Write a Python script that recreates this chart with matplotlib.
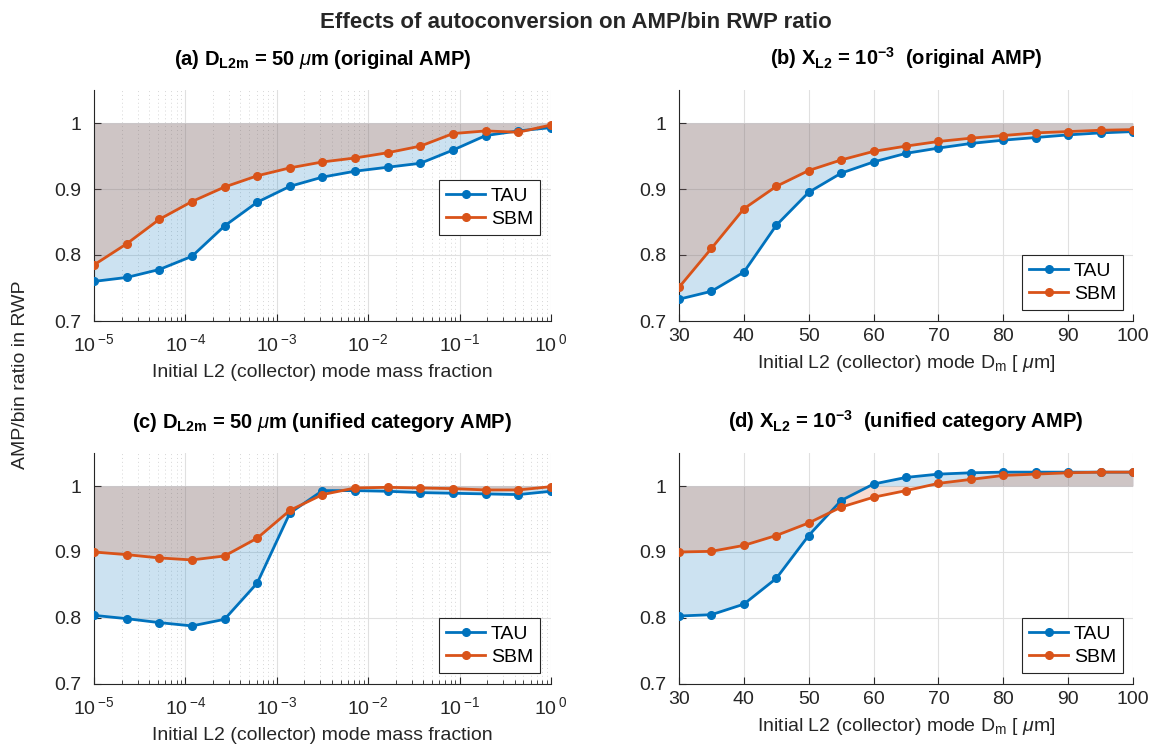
import matplotlib
matplotlib.use("Agg")
import matplotlib.pyplot as plt
from matplotlib.ticker import LogLocator, NullFormatter, FuncFormatter
import math

plt.rcParams['font.family'] = ['Liberation Sans', 'DejaVu Sans']
plt.rcParams['mathtext.fontset'] = 'custom'
plt.rcParams['mathtext.rm'] = 'Liberation Sans'
plt.rcParams['mathtext.bf'] = 'Liberation Sans:bold'
plt.rcParams['mathtext.it'] = 'Liberation Sans:italic'
plt.rcParams['mathtext.sf'] = 'Liberation Sans'

# ---------------- data ----------------
mass_fraction = [1.0e-5, 2.28e-5, 5.18e-5, 1.18e-4, 2.68e-4, 6.11e-4, 1.39e-3,
                 3.16e-3, 7.20e-3, 1.64e-2, 3.73e-2, 8.48e-2, 0.193, 0.439, 1.0]
dm = [30, 35, 40, 45, 50, 55, 60, 65, 70, 75, 80, 85, 90, 95, 100]

a_tau = [0.760, 0.766, 0.778, 0.798, 0.844, 0.880, 0.904, 0.918, 0.927, 0.933,
         0.939, 0.959, 0.981, 0.988, 0.993]
a_sbm = [0.785, 0.817, 0.854, 0.881, 0.903, 0.920, 0.932, 0.941, 0.947, 0.955,
         0.965, 0.984, 0.988, 0.986, 0.997]

b_tau = [0.733, 0.745, 0.774, 0.845, 0.895, 0.924, 0.941, 0.954, 0.962, 0.969,
         0.974, 0.978, 0.982, 0.985, 0.987]
b_sbm = [0.751, 0.810, 0.870, 0.904, 0.928, 0.944, 0.957, 0.965, 0.972, 0.977,
         0.981, 0.985, 0.987, 0.989, 0.990]

c_tau = [0.804, 0.799, 0.793, 0.788, 0.798, 0.853, 0.959, 0.993, 0.993, 0.992,
         0.990, 0.989, 0.988, 0.987, 0.992]
c_sbm = [0.900, 0.896, 0.891, 0.888, 0.894, 0.921, 0.963, 0.987, 0.997, 0.998,
         0.997, 0.996, 0.994, 0.994, 0.999]

d_tau = [0.803, 0.805, 0.821, 0.860, 0.925, 0.978, 1.003, 1.013, 1.018, 1.020,
         1.021, 1.021, 1.021, 1.021, 1.021]
d_sbm = [0.900, 0.901, 0.910, 0.925, 0.944, 0.968, 0.983, 0.993, 1.004, 1.010,
         1.016, 1.018, 1.020, 1.021, 1.021]

titles = [r'(a) $\mathbf{D_{L2m}}$ = 50 $\mu$m (original AMP)',
          r'(b) $\mathbf{X_{L2}}$ = $\mathbf{10^{-3}}$  (original AMP)',
          r'(c) $\mathbf{D_{L2m}}$ = 50 $\mu$m (unified category AMP)',
          r'(d) $\mathbf{X_{L2}}$ = $\mathbf{10^{-3}}$  (unified category AMP)']
xlabel_frac = 'Initial L2 (collector) mode mass fraction'
xlabel_dm = r'Initial L2 (collector) mode D$_{\mathrm{m}}$ [ $\mu$m]'
series_names = ['TAU', 'SBM']

BLUE = (0.0, 0.447, 0.741)
ORANGE = (0.85, 0.325, 0.098)
AXC = (0.15, 0.15, 0.15)

fig = plt.figure(figsize=(11.52, 7.51), dpi=100)
W, H = 1152, 751

def make_ax(l, r, t, b):
    return fig.add_axes([l / W, (H - b) / H, (r - l) / W, (b - t) / H])

def log_fmt(v, pos):
    e = int(round(math.log10(v)))
    return r'10$\,^{%d}$' % e

axes = [make_ax(94, 551, 90, 321), make_ax(679, 1133, 90, 321),
        make_ax(94, 551, 453, 684), make_ax(679, 1133, 453, 684)]

panels = [(mass_fraction, a_tau, a_sbm, True, 'upper right', (0.976, 0.61)),
          (dm, b_tau, b_sbm, False, 'lower right', (0.978, 0.048)),
          (mass_fraction, c_tau, c_sbm, True, 'lower right', (0.976, 0.048)),
          (dm, d_tau, d_sbm, False, 'lower right', (0.978, 0.048))]

for ax, (x, tau, sbm, islog, loc, anchor), title in zip(axes, panels, titles):
    ax.fill_between(x, tau, 1, color=BLUE, alpha=0.2, linewidth=0, zorder=1)
    ax.fill_between(x, sbm, 1, color=ORANGE, alpha=0.2, linewidth=0, zorder=1)
    ax.plot(x, tau, '-o', color=BLUE, lw=2, ms=5.5, label=series_names[0], zorder=3)
    ax.plot(x, sbm, '-o', color=ORANGE, lw=2, ms=5.5, label=series_names[1], zorder=3)
    ax.set_ylim(0.7, 1.05)
    ax.set_yticks([0.7, 0.8, 0.9, 1.0])
    ax.set_yticklabels(['0.7', '0.8', '0.9', '1'])
    if islog:
        ax.set_xscale('log')
        ax.set_xlim(1e-5, 1)
        ax.xaxis.set_major_locator(LogLocator(base=10, numticks=10))
        ax.xaxis.set_major_formatter(FuncFormatter(log_fmt))
        ax.xaxis.set_minor_locator(LogLocator(base=10, subs=range(2, 10), numticks=20))
        ax.xaxis.set_minor_formatter(NullFormatter())
        ax.grid(True, which='minor', axis='x', color=(0.84, 0.84, 0.84),
                linestyle=(0, (1, 3)), lw=0.7, zorder=0)
        ax.tick_params(axis='x', which='major', pad=9)
        ax.set_xlabel(xlabel_frac, fontsize=14, color=AXC, labelpad=6)
    else:
        ax.set_xlim(30, 100)
        ax.set_xticks(list(range(30, 101, 10)))
        ax.tick_params(axis='x', which='major', pad=5)
        ax.set_xlabel(xlabel_dm, fontsize=14, color=AXC, labelpad=6)
    ax.grid(True, which='major', color=(0.88, 0.88, 0.88), lw=0.8, zorder=0)
    ax.set_axisbelow(True)
    for s in ['top', 'right']:
        ax.spines[s].set_visible(False)
    for s in ['left', 'bottom']:
        ax.spines[s].set_color(AXC)
        ax.spines[s].set_linewidth(0.8)
    ax.tick_params(which='both', direction='in', colors=AXC, labelsize=14)
    ax.tick_params(axis='y', which='major', pad=9)
    ax.tick_params(which='major', length=5)
    ax.tick_params(which='minor', length=3)
    ax.set_title(title, fontsize=14.5, fontweight='bold', color='black', pad=18)
    leg = ax.legend(loc=loc, bbox_to_anchor=anchor, fontsize=14, fancybox=False,
                    framealpha=1, edgecolor=AXC, handlelength=2.0,
                    borderpad=0.35, labelspacing=0.3, handletextpad=0.3,
                    borderaxespad=0)
    leg.get_frame().set_linewidth(0.8)

fig.text(0.5, 1 - 22 / H, 'Effects of autoconversion on AMP/bin RWP ratio',
         ha='center', va='center', fontsize=16, fontweight='bold', color=AXC)
fig.text(21 / W, 1 - 375 / H, 'AMP/bin ratio in RWP', rotation=90,
         ha='center', va='center', fontsize=14, color=AXC)

fig.savefig('out.png', dpi=100)
